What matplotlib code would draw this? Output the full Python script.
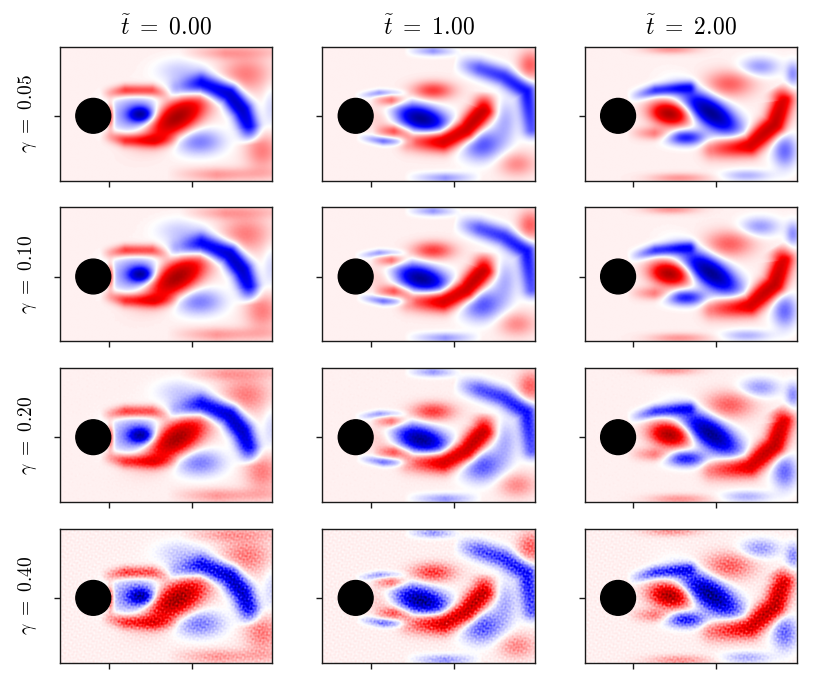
import numpy as np
import matplotlib
matplotlib.use("Agg")
import matplotlib.pyplot as plt
from matplotlib.patches import Circle

plt.rcParams['mathtext.fontset'] = 'cm'
plt.rcParams['font.family'] = 'serif'
plt.rcParams['font.serif'] = ['DejaVu Serif']

times = [0.00, 1.00, 2.00]
gammas = [0.05, 0.10, 0.20, 0.40]

# domain (tick spacing = 1 unit), cylinder
x_range = (-0.586, 1.976)
y_range = (-0.783, 0.835)
cyl_x, cyl_y, cyl_r = -0.185, 0.0, 0.21
background = 0.035

# compact vortices: (x, y, amplitude, sigma_x, sigma_y, angle_deg)
blobs_t0 = [
    (0.33, 0.02, -0.38, 0.22, 0.16, 0),
    (0.39, 0.02, -0.70, 0.10, 0.065, 0),
    (0.02, 0.00, 0.50, 0.03, 0.10, 0),
    (0.81, -0.02, 1.05, 0.27, 0.13, 32),
    (1.09, -0.31, -0.35, 0.20, 0.11, 0),
    (1.65, 0.51, 0.28, 0.20, 0.15, 0),
    (1.85, -0.42, 0.28, 0.14, 0.16, 0),
    (0.85, 0.55, -0.15, 0.20, 0.10, 0),
    (1.95, 0.10, -0.12, 0.06, 0.20, 0),
]
blobs_t1 = [
    (0.60, -0.03, -1.05, 0.23, 0.11, -15),
    (0.75, 0.31, 0.45, 0.17, 0.075, 0),
    (1.35, -0.35, -0.45, 0.17, 0.13, 10),
    (1.62, -0.05, -0.22, 0.10, 0.18, 0),
    (1.92, 0.62, 0.35, 0.10, 0.12, 0),
    (1.76, -0.58, 0.25, 0.15, 0.10, 0),
    (0.20, 0.00, 0.15, 0.18, 0.12, 0),
]
blobs_t2 = [
    (0.43, 0.03, 1.00, 0.16, 0.095, -10),
    (0.93, 0.04, -1.05, 0.27, 0.115, -35),
    (0.63, -0.26, -0.60, 0.16, 0.065, 0),
    (1.15, 0.39, 0.35, 0.20, 0.11, 0),
    (1.52, 0.60, -0.28, 0.16, 0.08, 0),
    (1.92, 0.51, -0.30, 0.06, 0.10, 0),
    (1.82, -0.42, -0.40, 0.10, 0.14, 0),
    (1.36, -0.72, -0.22, 0.20, 0.05, 0),
    (0.45, 0.81, 0.22, 0.22, 0.04, 0),
    (0.55, -0.75, 0.22, 0.25, 0.04, 0),
]

# vortex sheets / shed bands: (points [(x, y, amplitude)], width)
bands_t0 = [
    ([(-0.10, 0.26, 0.0), (0.20, 0.31, 0.5), (0.52, 0.31, 0.45), (0.75, 0.25, 0.0)], 0.05),
    ([(-0.10, -0.22, 0.0), (0.20, -0.29, 0.5), (0.55, -0.30, 0.45), (0.85, -0.28, 0.0)], 0.055),
    ([(0.85, 0.33, -0.3), (1.12, 0.39, -0.75), (1.45, 0.27, -0.9), (1.61, 0.07, -0.85),
      (1.69, -0.13, -0.7), (1.72, -0.35, 0.0)], 0.09),
    ([(0.85, 0.77, 0.0), (1.40, 0.77, 0.2), (1.95, 0.78, 0.1)], 0.06),
    ([(0.70, -0.70, 0.0), (1.30, -0.71, 0.22), (1.95, -0.70, 0.1)], 0.06),
]
bands_t1 = [
    ([(0.00, 0.19, 0.0), (0.25, 0.19, 0.4), (0.50, 0.18, 0.0)], 0.05),
    ([(0.02, -0.18, 0.0), (0.28, -0.18, 0.4), (0.52, -0.19, 0.0)], 0.05),
    ([(-0.20, 0.24, 0.0), (0.10, 0.28, -0.3), (0.48, 0.28, 0.0)], 0.03),
    ([(-0.18, -0.25, 0.0), (0.15, -0.30, -0.4), (0.55, -0.31, 0.0)], 0.035),
    ([(0.48, -0.30, 0.3), (0.87, -0.30, 0.85), (1.15, -0.17, 0.95), (1.36, 0.07, 0.85),
      (1.38, 0.30, 0.0)], 0.09),
    ([(1.00, 0.66, 0.0), (1.30, 0.58, -0.45), (1.60, 0.48, -0.55), (1.88, 0.30, -0.65),
      (1.94, -0.15, -0.45)], 0.08),
    ([(0.40, 0.79, 0.0), (0.75, 0.79, -0.3), (1.10, 0.78, 0.0)], 0.04),
    ([(0.40, -0.74, 0.0), (0.90, -0.75, -0.3), (1.35, -0.74, 0.0)], 0.045),
]
bands_t2 = [
    ([(-0.08, 0.22, 0.0), (0.26, 0.31, -0.55), (0.67, 0.35, -0.45)], 0.05),
    ([(-0.08, -0.20, 0.0), (0.25, -0.21, 0.3), (0.55, -0.22, 0.0)], 0.055),
    ([(0.95, -0.40, 0.3), (1.40, -0.35, 0.85), (1.70, -0.10, 0.9), (1.80, 0.19, 0.75),
      (1.70, 0.36, 0.0)], 0.09),
]
blobs_by_time = [blobs_t0, blobs_t1, blobs_t2]
bands_by_time = [bands_t0, bands_t1, bands_t2]

xs = np.linspace(*x_range, 420)
ys = np.linspace(*y_range, 270)
X, Y = np.meshgrid(xs, ys)


def band_field(points, width):
    best_d = np.full_like(X, np.inf)
    best_a = np.zeros_like(X)
    for (x0, y0, a0), (x1, y1, a1) in zip(points[:-1], points[1:]):
        dx, dy = x1 - x0, y1 - y0
        t = np.clip(((X - x0) * dx + (Y - y0) * dy) / (dx * dx + dy * dy), 0, 1)
        d = np.hypot(X - (x0 + t * dx), Y - (y0 + t * dy))
        a = a0 + t * (a1 - a0)
        closer = d < best_d
        best_d = np.where(closer, d, best_d)
        best_a = np.where(closer, a, best_a)
    return best_a * np.exp(-0.5 * (best_d / width) ** 2)


def vorticity(blobs, bands, gamma):
    w = np.full_like(X, background)
    for bx, by, a, sx, sy, ang in blobs:
        t = np.deg2rad(ang)
        xr = (X - bx) * np.cos(t) + (Y - by) * np.sin(t)
        yr = -(X - bx) * np.sin(t) + (Y - by) * np.cos(t)
        w += a * np.exp(-0.5 * ((xr / sx) ** 2 + (yr / sy) ** 2))
    for pts, width in bands:
        w += band_field(pts, width)
    # fine grain texture growing with the noise level gamma
    grain = np.zeros_like(X)
    angles = [3, 29, 47, 78, 95, 121, 139, 158, 171, 64]
    freqs = [131, 167, 113, 149, 181, 123, 157, 139, 197, 109]
    for k, (ang, f) in enumerate(zip(angles, freqs)):
        a = np.deg2rad(ang)
        grain += np.sin(f * (X * np.cos(a) + Y * np.sin(a)) + 2.3 * k * k)
    grain /= np.sqrt(len(angles))
    w += 1.3 * gamma ** 2 * grain * (0.04 + np.abs(w))
    return w


fig, axes = plt.subplots(4, 3, figsize=(8.13, 6.87), dpi=100)
fig.subplots_adjust(left=0.0738, right=0.9807, top=0.932, bottom=0.0354,
                    wspace=0.235, hspace=0.2)

for i, g in enumerate(gammas):
    for j, t in enumerate(times):
        ax = axes[i, j]
        w = vorticity(blobs_by_time[j], bands_by_time[j], g)
        ax.imshow(w, extent=(*x_range, *y_range), origin='lower', cmap='seismic',
                  vmin=-1.25, vmax=1.25, interpolation='bilinear', aspect='auto')
        ax.add_patch(Circle((cyl_x, cyl_y), cyl_r, color='black', zorder=3))
        ax.set_xlim(*x_range)
        ax.set_ylim(*y_range)
        ax.set_xticks([0, 1])
        ax.set_yticks([0])
        ax.set_xticklabels([])
        ax.set_yticklabels([])
        ax.tick_params(length=4.5, width=1.0, color='#1a1a1a')
        for s in ax.spines.values():
            s.set_linewidth(1.0)
            s.set_color('#1a1a1a')
        if i == 0:
            ax.set_title(r'$\tilde{t}\ =\ %.2f$' % t, fontsize=17, pad=9)
        if j == 0:
            ax.set_ylabel(r'$\gamma\ =\ %.2f$' % g, fontsize=14, labelpad=7)

fig.savefig('out.png', dpi=100)
